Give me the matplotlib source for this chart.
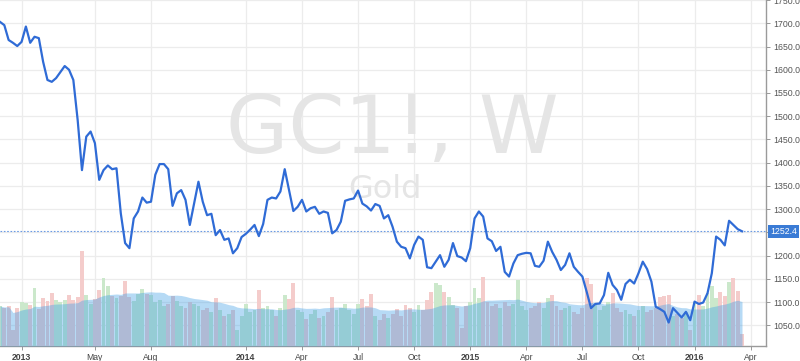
import numpy as np
import pandas as pd
import matplotlib
matplotlib.use("Agg")
import matplotlib.pyplot as plt

# ---------------- data (weekly bars, week-start Mondays) ----------------
start_date = "2012-12-03"
close = [
    1703, 1696, 1664, 1658, 1651, 1660, 1693, 1658, 1671, 1668,
    1617, 1578, 1574, 1582, 1595, 1608, 1600, 1578, 1492, 1384,
    1456, 1467, 1442, 1363, 1384, 1394, 1386, 1388, 1291, 1227,
    1216, 1280, 1295, 1325, 1314, 1316, 1374, 1397, 1397, 1386,
    1307, 1334, 1341, 1320, 1266, 1313, 1359, 1316, 1287, 1290,
    1244, 1255, 1234, 1237, 1205, 1216, 1240, 1247, 1256, 1266,
    1242, 1268, 1320, 1325, 1323, 1338, 1386, 1341, 1296, 1305,
    1320, 1295, 1302, 1305, 1290, 1295, 1292, 1248, 1255, 1273,
    1318, 1321, 1323, 1340, 1312, 1306, 1297, 1311, 1307, 1280,
    1287, 1262, 1230, 1219, 1216, 1194, 1223, 1241, 1234, 1175,
    1173, 1187, 1201, 1176, 1191, 1227, 1199, 1196, 1188, 1216,
    1280, 1295, 1284, 1237, 1231, 1210, 1219, 1165, 1155, 1183,
    1201, 1204, 1206, 1205, 1178, 1176, 1189, 1230, 1208, 1191,
    1169, 1180, 1205, 1176, 1165, 1155, 1122, 1087, 1096, 1097,
    1115, 1163, 1137, 1126, 1105, 1139, 1148, 1140, 1162, 1187,
    1171, 1144, 1090, 1085, 1079, 1056, 1087, 1077, 1067, 1079,
    1061, 1101, 1096, 1099, 1119, 1162, 1241, 1234, 1222, 1275,
    1266, 1257, 1252.4,
]
volume = [  # thousands of contracts (approx.)
    40, 38, 40, 16, 38, 44, 43, 41, 58, 37,
    48, 45, 53, 46, 44, 46, 51, 46, 49, 95,
    51, 42, 47, 56, 68, 60, 50, 48, 50, 65,
    49, 45, 52, 57, 52, 51, 44, 46, 40, 42,
    50, 45, 40, 38, 44, 42, 40, 36, 38, 34,
    48, 36, 30, 32, 36, 16, 30, 42, 34, 36,
    56, 38, 40, 36, 30, 38, 51, 47, 63, 36,
    34, 27, 32, 36, 28, 30, 34, 49, 36, 38,
    42, 36, 32, 42, 47, 40, 52, 30, 26, 32,
    28, 32, 37, 30, 41, 38, 34, 41, 36, 46,
    54, 63, 61, 54, 49, 41, 38, 18, 40, 44,
    58, 48, 69, 44, 40, 42, 38, 44, 40, 42,
    66, 40, 36, 38, 40, 44, 38, 48, 51, 40,
    36, 38, 40, 34, 32, 38, 68, 62, 42, 36,
    40, 44, 53, 38, 34, 36, 32, 30, 36, 40,
    34, 36, 38, 49, 50, 51, 30, 32, 28, 34,
    16, 44, 51, 40, 53, 60, 48, 54, 50, 64,
    68, 55, 12,
]
tick_dates = ["2013-01-07", "2013-05-06", "2013-08-05", "2014-01-06", "2014-04-07",
              "2014-07-07", "2014-10-06", "2015-01-05", "2015-04-06", "2015-07-06",
              "2015-10-05", "2016-01-04", "2016-04-04"]
tick_labels = ["2013", "May", "Aug", "2014", "Apr", "Jul", "Oct", "2015", "Apr",
               "Jul", "Oct", "2016", "Apr"]
price_ticks = [1050, 1100, 1150, 1200, 1250, 1300, 1350, 1400, 1450, 1500,
               1550, 1600, 1650, 1700, 1750]
last_price = 1252.4
symbol = "GC1!, W"
name = "Gold"

# ---------------- derived ----------------
close = np.array(close, dtype=float)
volume = np.array(volume, dtype=float)
idx = np.arange(len(close))
t0 = pd.Timestamp(start_date)
tick_pos = [(pd.Timestamp(d) - t0).days / 7.0 for d in tick_dates]
up = np.r_[True, np.diff(close) >= 0]
vol_ma = pd.Series(volume).rolling(20, min_periods=1).mean().values

plt.rcParams['font.family'] = ['Liberation Sans', 'DejaVu Sans']

W, H = 800, 361
fig = plt.figure(figsize=(8.0, 3.61), dpi=100)
px_per_bar = 4.314
plot_right = 766
plot_bottom = 346
rect = [0, (H - plot_bottom) / H, plot_right / W, plot_bottom / H]

ax = fig.add_axes(rect)
ax.set_xlim(0, plot_right / px_per_bar)
ymin, ymax = 1005.5, 1750.1
ax.set_ylim(ymin, ymax)

grid_c = "#ececec"
for tp in tick_pos:
    ax.axvline(tp, color=grid_c, lw=0.9, zorder=0)
for pt in price_ticks:
    ax.axhline(pt, color=grid_c, lw=0.9, zorder=0)

# watermark
ax.text(0.512, 1 - 153 / plot_bottom, symbol, transform=ax.transAxes, ha="center",
        va="baseline", fontsize=58, color="#e5e5e5", family=["DejaVu Sans"], zorder=1)
ax.text(0.503, 1 - 198 / plot_bottom, name, transform=ax.transAxes, ha="center",
        va="baseline", fontsize=23, color="#e5e5e5", family=["DejaVu Sans"], zorder=1)

# last price line
ax.axhline(last_price, color="#6a9ae3", lw=0.8, ls=(0, (1.5, 1.5)), zorder=1)

# ---------------- volume ----------------
axv = ax.twinx()
axv.set_ylim(0, plot_bottom)
axv.set_xlim(ax.get_xlim())
axv.bar(idx[up], volume[up], width=0.9, color="#cbe8cb", zorder=1, linewidth=0)
axv.bar(idx[~up], volume[~up], width=0.9, color="#f4cccb", zorder=1, linewidth=0)
axv.fill_between(idx, 0, vol_ma, color="#3f9fe6", alpha=0.38, lw=0, zorder=2)
axv.set_yticks([])
axv.tick_params(axis="both", length=0)
for s in axv.spines.values():
    s.set_visible(False)

# ---------------- price line ----------------
axl = ax.twinx()
axl.set_ylim(ymin, ymax)
axl.set_xlim(ax.get_xlim())
axl.plot(idx, close, color="#2f6bd6", lw=1.6, solid_joinstyle="round", zorder=3)
axl.set_yticks([])
axl.tick_params(axis="both", length=0)
for s in axl.spines.values():
    s.set_visible(False)

# axes ticks (set after twinx, which moves ticks to the left)
ax.yaxis.tick_right()
ax.yaxis.set_label_position("right")
ax.set_yticks(price_ticks)
# the 1250.0 label is hidden behind the last-price box in the reference
ax.set_yticklabels(["" if p == 1250 else f"{p:.1f}" for p in price_ticks],
                   fontsize=6.3, color="#555555")
ax.set_xticks(tick_pos)
ax.set_xticklabels(tick_labels, fontsize=6.2, color="#444444")
for lab in ax.get_xticklabels():
    if lab.get_text().isdigit():
        lab.set_fontweight("bold")
ax.tick_params(axis="y", which="both", left=False, right=True, labelleft=False,
               labelright=True, length=3, width=0.6, color="#888888", pad=2)
ax.tick_params(axis="x", length=3, width=0.6, color="#888888", pad=2)
for s in ["top", "left"]:
    ax.spines[s].set_visible(False)
for s in ["right", "bottom"]:
    ax.spines[s].set_visible(True)
    ax.spines[s].set_color("#9a9a9a")
    ax.spines[s].set_linewidth(1.0)

# last price label box
axl.annotate(f"{last_price:.1f}", xy=(1.0, last_price), xycoords=("axes fraction", "data"),
             xytext=(3, 0), textcoords="offset points", ha="left", va="center",
             fontsize=6.3, color="white", annotation_clip=False,
             bbox=dict(boxstyle="square,pad=0.25", fc="#3a7bd5", ec="none"), zorder=5)

fig.savefig("out.png", dpi=100)
